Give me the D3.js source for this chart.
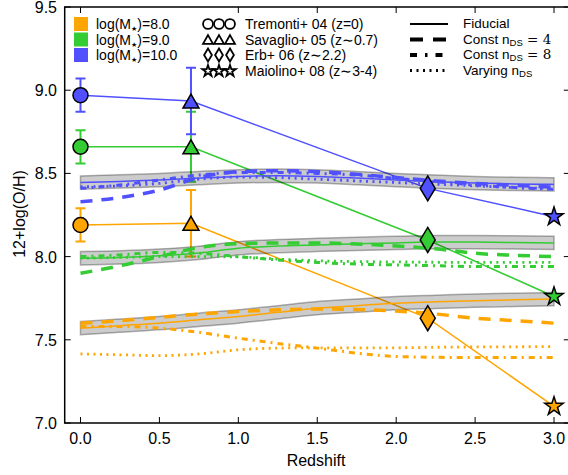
<!DOCTYPE html>
<html><head><meta charset="utf-8">
<script src="https://cdnjs.cloudflare.com/ajax/libs/d3/7.8.5/d3.min.js"></script>
<style>body{margin:0;background:#fff}svg{display:block}text{font-family:"Liberation Sans",Arial,sans-serif}</style>
</head><body>
<script>
// ---------- DATA ----------
const xTicks = [0.0, 0.5, 1.0, 1.5, 2.0, 2.5, 3.0];
const yTicks = [7.0, 7.5, 8.0, 8.5, 9.0, 9.5];
const massLabels = ["8.0", "9.0", "10.0"];
const obsLabels = ["Tremonti+ 04 (z=0)", "Savaglio+ 05 (z∼0.7)", "Erb+ 06 (z∼2.2)", "Maiolino+ 08 (z∼3-4)"];
const modelLabels = ["Fiducial", "Const n", "Const n", "Varying n"];

const obsZ = [0, 0.7, 2.2, 3.0];
const obsOrange = [8.19, 8.20, 7.63, 7.10];
const errOrange = [0.10, 0.20, 0, 0];
const obsGreen = [8.66, 8.66, 8.10, 7.76];
const errGreen = [0.10, 0.21, 0, 0];
const obsBlue = [8.97, 8.935, 8.41, 8.24];
const errBlue = [0.10, 0.20, 0, 0];

const zGrid = [0, 0.25, 0.5, 0.75, 1.0, 1.25, 1.5, 1.75, 2.0, 2.25, 2.5, 2.75, 3.0];
const fidOrange = [7.57, 7.585, 7.60, 7.62, 7.64, 7.665, 7.69, 7.705, 7.72, 7.728, 7.735, 7.74, 7.745];
const n4Orange  = [7.60, 7.615, 7.635, 7.655, 7.67, 7.68, 7.685, 7.682, 7.673, 7.655, 7.63, 7.615, 7.60];
const n8Orange  = [7.58, 7.58, 7.57, 7.545, 7.51, 7.478, 7.45, 7.42, 7.40, 7.395, 7.393, 7.393, 7.393];
const varOrange = [7.415, 7.41, 7.405, 7.415, 7.44, 7.45, 7.452, 7.452, 7.452, 7.455, 7.457, 7.458, 7.459];

const fidGreen = [7.99, 7.995, 8.005, 8.022, 8.05, 8.063, 8.07, 8.077, 8.082, 8.087, 8.087, 8.085, 8.082];
const n4Green  = [7.90, 7.945, 8.0, 8.055, 8.078, 8.082, 8.082, 8.076, 8.064, 8.047, 8.02, 8.008, 8.0];
const n8Green  = [8.0, 8.01, 8.025, 8.02, 8.0, 7.98, 7.965, 7.955, 7.95, 7.945, 7.94, 7.94, 7.94];
const varGreen = [7.99, 7.995, 8.0, 8.0, 7.998, 7.985, 7.975, 7.97, 7.968, 7.966, 7.965, 7.965, 7.965];

const fidBlue = [8.445, 8.452, 8.46, 8.472, 8.482, 8.486, 8.482, 8.472, 8.46, 8.45, 8.442, 8.437, 8.434];
const n4Blue  = [8.33, 8.355, 8.40, 8.475, 8.51, 8.516, 8.51, 8.495, 8.475, 8.455, 8.44, 8.428, 8.418];
const n8Blue  = [8.41, 8.43, 8.46, 8.49, 8.505, 8.505, 8.50, 8.49, 8.47, 8.45, 8.43, 8.415, 8.405];
const varBlue = [8.42, 8.425, 8.44, 8.465, 8.478, 8.475, 8.465, 8.455, 8.445, 8.435, 8.425, 8.415, 8.41];

const bandHalf = 0.04;

// ---------- STYLE ----------
const W = 568, H = 475;
const cOrange = "#ffa500", cGreen = "#33cc33", cBlue = "#5050ff";
const groups = [
  {c: cOrange, obs: obsOrange, err: errOrange, fid: fidOrange, n4: n4Orange, n8: n8Orange, vr: varOrange},
  {c: cGreen, obs: obsGreen, err: errGreen, fid: fidGreen, n4: n4Green, n8: n8Green, vr: varGreen},
  {c: cBlue, obs: obsBlue, err: errBlue, fid: fidBlue, n4: n4Blue, n8: n8Blue, vr: varBlue}
];

const svg = d3.select("body").append("svg").attr("width", W).attr("height", H);
const x = d3.scaleLinear().domain([-0.1, 3.1]).range([64.7, 569.8]);
const y = d3.scaleLinear().domain([7.0, 9.5]).range([423, 7]);

const plot = svg.append("g");
plot.append("defs").append("clipPath").attr("id","clip")
  .append("rect").attr("x", x(-0.1)).attr("y", y(9.5)).attr("width", x(3.1)-x(-0.1)).attr("height", y(7)-y(9.5));
const P = plot.append("g").attr("clip-path","url(#clip)");

const line = arr => d3.line().x((d,i)=>x(zGrid[i])).y(d=>y(d)).curve(d3.curveMonotoneX)(arr);

// observations lines
groups.forEach(g => {
  P.append("path").attr("d", d3.line().x((d,i)=>x(obsZ[i])).y(d=>y(d))(g.obs))
    .attr("fill","none").attr("stroke", g.c).attr("stroke-width", 1.5);
});
// error bars
groups.forEach(g => {
  g.err.forEach((e,i) => {
    if (!e) return;
    const cx = x(obsZ[i]);
    P.append("line").attr("x1",cx).attr("x2",cx).attr("y1",y(g.obs[i]-e)).attr("y2",y(g.obs[i]+e))
      .attr("stroke", g.c).attr("stroke-width", 2);
    [g.obs[i]-e, g.obs[i]+e].forEach(v => P.append("line").attr("x1",cx-5).attr("x2",cx+5)
      .attr("y1",y(v)).attr("y2",y(v)).attr("stroke", g.c).attr("stroke-width", 2));
  });
});
// bands
groups.forEach(g => {
  const area = d3.area().x((d,i)=>x(zGrid[i])).y0(d=>y(d-bandHalf)).y1(d=>y(d+bandHalf)).curve(d3.curveMonotoneX);
  P.append("path").attr("d", area(g.fid)).attr("fill","#000").attr("fill-opacity",0.2)
    .attr("stroke","#000").attr("stroke-opacity",0.3).attr("stroke-width",1.5);
});
// model lines
groups.forEach(g => {
  P.append("path").attr("d", line(g.vr)).attr("fill","none").attr("stroke",g.c).attr("stroke-width",2.8).attr("stroke-dasharray","2,4.5");
  P.append("path").attr("d", line(g.n8)).attr("fill","none").attr("stroke",g.c).attr("stroke-width",3).attr("stroke-dasharray","6,5,2,5");
  P.append("path").attr("d", line(g.n4)).attr("fill","none").attr("stroke",g.c).attr("stroke-width",3.5).attr("stroke-dasharray","12,9");
  P.append("path").attr("d", line(g.fid)).attr("fill","none").attr("stroke",g.c).attr("stroke-width",1.5);
});

// marker shapes
const shapes = [
  s => d3.symbol().type(d3.symbolCircle).size(Math.PI*(7.5*s)*(7.5*s))(),
  s => `M0,${-7*s}L${8*s},${7*s}L${-8*s},${7*s}Z`,
  s => `M0,${-12.5*s}L${7.5*s},0L0,${12.5*s}L${-7.5*s},0Z`,
  s => d3.symbol().type(d3.symbolStar).size(105*s*s)()
];
groups.forEach(g => {
  g.obs.forEach((v,i) => {
    P.append("path").attr("d", shapes[i](1)).attr("transform",`translate(${x(obsZ[i])},${y(v)})`)
      .attr("fill", g.c).attr("stroke","#000").attr("stroke-width",1.5);
  });
});

// axes frame
const frame = svg.append("g");
frame.append("rect").attr("x",x(-0.1)).attr("y",y(9.5)).attr("width",x(3.1)-x(-0.1)).attr("height",y(7)-y(9.5))
  .attr("fill","none").attr("stroke","#000").attr("stroke-width",1.5);
const tl = 6;
xTicks.forEach(t => {
  frame.append("line").attr("x1",x(t)).attr("x2",x(t)).attr("y1",y(7)).attr("y2",y(7)-tl).attr("stroke","#000").attr("stroke-width",1);
  if (t !== 0.5) frame.append("line").attr("x1",x(t)).attr("x2",x(t)).attr("y1",y(9.5)).attr("y2",y(9.5)+tl).attr("stroke","#000").attr("stroke-width",1);
  frame.append("text").attr("x",x(t)).attr("y",y(7)+20.5).attr("text-anchor","middle").attr("font-size",16).text(t.toFixed(1));
});
yTicks.forEach(t => {
  frame.append("line").attr("x1",x(-0.1)).attr("x2",x(-0.1)+tl).attr("y1",y(t)).attr("y2",y(t)).attr("stroke","#000").attr("stroke-width",1);
  frame.append("line").attr("x1",x(3.1)).attr("x2",x(3.1)-tl).attr("y1",y(t)).attr("y2",y(t)).attr("stroke","#000").attr("stroke-width",1);
  frame.append("text").attr("x",57).attr("y",y(t)+6).attr("text-anchor","end").attr("font-size",16).text(t.toFixed(1));
});
svg.append("text").attr("x",316).attr("y",466).attr("text-anchor","middle").attr("font-size",16).text("Redshift");
svg.append("text").attr("transform","translate(25,214) rotate(-90)").attr("text-anchor","middle").attr("font-size",16).text("12+log(O/H)");

// legends
const L = svg.append("g").attr("font-size",14);
const rowsY = [24, 39.5, 55, 71];
groups.forEach((g,i) => {
  L.append("rect").attr("x",74).attr("y",rowsY[i]-7).attr("width",14).attr("height",14).attr("fill",g.c);
  const t = L.append("text").attr("x",96).attr("y",rowsY[i]+5);
  t.append("tspan").text("log(M");
  t.append("tspan").attr("font-size",7).attr("dy",2).attr("font-family","DejaVu Sans").text("★");
  t.append("tspan").attr("dy",-2).text(")=" + massLabels[i]);
});
const legScale = [0.66, 0.62, 0.52, 0.62];
obsLabels.forEach((lab,i) => {
  [208, 219, 230].forEach(cx => {
    L.append("path").attr("d", shapes[i](legScale[i])).attr("transform",`translate(${cx},${rowsY[i]})`)
      .attr("fill","#fff").attr("stroke","#000").attr("stroke-width",1.8);
  });
  L.append("text").attr("x",245).attr("y",rowsY[i]+5).text(lab);
});
const dashes = [null, "13,10", "7,8,2.5,8", "2,4.5"];
const widths = [2, 4, 4, 3];
const rowsY2 = [24, 39.5, 55, 70.5];
modelLabels.forEach((lab,i) => {
  const ln = L.append("line").attr("x1",410).attr("x2",448).attr("y1",rowsY2[i]).attr("y2",rowsY2[i])
    .attr("stroke","#000").attr("stroke-width",widths[i]);
  if (dashes[i]) ln.attr("stroke-dasharray",dashes[i]);
  const t = L.append("text").attr("x",463).attr("y",rowsY2[i]+4).attr("font-size",13.5);
  t.append("tspan").text(lab);
  if (i > 0) {
    t.append("tspan").attr("font-size",9.5).attr("dy",2).text("DS");
    if (i === 1 || i === 2) t.append("tspan").attr("dy",-2).attr("font-family","DejaVu Serif").attr("font-size",13.5)
      .text(i === 1 ? " = 4" : " = 8");
  }
});
</script>
</body></html>
